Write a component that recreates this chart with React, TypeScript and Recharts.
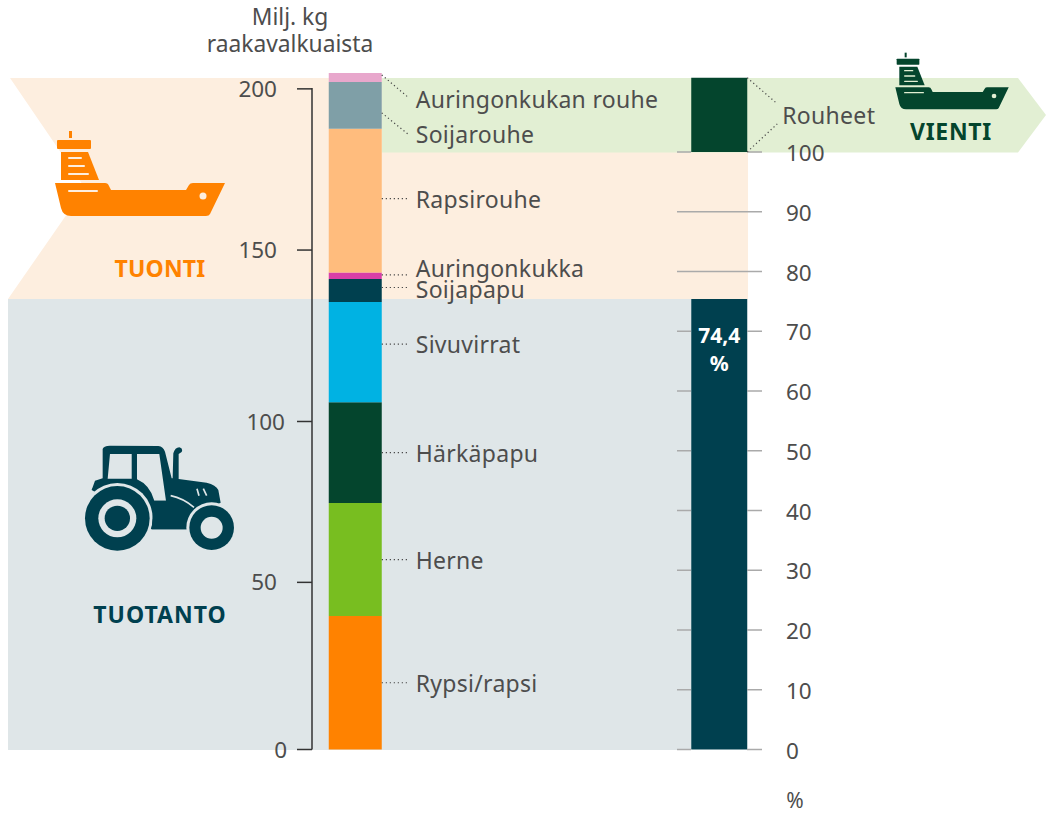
import { Bar, ComposedChart, LabelList, XAxis, YAxis } from "recharts";

const FONT = "'Noto Sans', sans-serif";
const INK = "#4d4d4d";
const DOTS = { stroke: "#444", strokeWidth: 1.2, strokeDasharray: "1.2 2.8" };

// Milj. kg raakavalkuaista, bottom to top
const feedNames = [
  "Rypsi/rapsi",
  "Herne",
  "Härkäpapu",
  "Sivuvirrat",
  "Soijapapu",
  "Auringonkukka",
  "Rapsirouhe",
  "Soijarouhe",
  "Auringonkukan rouhe",
];
const feedValues = [40.4, 34.2, 30.5, 30.4, 6.9, 2, 43.5, 14.2, 2.7];
const feedColors = ["#ff8200", "#78be20", "#04452d", "#00b2e3", "#00404f", "#d93ea8", "#ffbc7d", "#7f9fa7", "#e8a7cc"];

// self sufficiency column, percent
const selfSufficiency = 75.4;
const selfSufficiencyLabel = "74,4";
const exportGap = 24.6;
const exportMeal = 12.4;

const leftTicks = [0, 50.6, 99.3, 151.2, 200];
const leftTickLabels = ["0", "50", "100", "150", "200"];
const leftTickEnds = [287, 277, 285, 277, 277];
const rightTicks = [0, 10, 20, 30, 40, 50, 60, 70, 80, 90, 100];

const feedRow: Record<string, number | string> = { name: "kg" };
feedNames.forEach((n, i) => (feedRow[n] = feedValues[i]));
const data = [
  feedRow,
  { name: "pct", kotimainen: selfSufficiency, gap: exportGap, Rouheet: exportMeal },
];

// leader line and text offsets from the middle of each segment
const leaders: Record<string, { from: number; to: number; text: number }> = {
  "Rypsi/rapsi": { from: 0, to: 0, text: 0 },
  Herne: { from: 0, to: 0, text: 0 },
  Härkäpapu: { from: 0, to: 0, text: 0 },
  Sivuvirrat: { from: -8, to: -8, text: -8 },
  Soijapapu: { from: -3, to: -3, text: -2 },
  Auringonkukka: { from: -1, to: -1, text: -8 },
  Rapsirouhe: { from: -2, to: -2, text: -2 },
  Soijarouhe: { from: 7.5, to: 28.5, text: 28.5 },
  "Auringonkukan rouhe": { from: -2.5, to: 19.5, text: 21.5 },
};

const feedLabel = (name: string) => (p: any) => {
  if (p.value == null) return null;
  const l = leaders[name];
  const right = p.x + p.width;
  const mid = p.y + p.height / 2;
  return (
    <g>
      <line x1={right} y1={mid + l.from} x2={right + 26} y2={mid + l.to} {...DOTS} />
      <text x={right + 34} y={mid + l.text} dy="0.4em" fontSize={23} letterSpacing={0.28} fill={INK} fontFamily={FONT}>
        {name}
      </text>
    </g>
  );
};

const mealLabel = (p: any) => {
  if (p.value == null) return null;
  const right = p.x + p.width;
  return (
    <g>
      <line x1={right} y1={p.y} x2={right + 30} y2={p.y + 26} {...DOTS} />
      <line x1={right} y1={p.y + p.height} x2={right + 30} y2={p.y + p.height - 28} {...DOTS} />
      <text x={right + 35} y={p.y + p.height / 2} dy="0.4em" fontSize={23} letterSpacing={0.3} fill={INK} fontFamily={FONT}>
        Rouheet
      </text>
    </g>
  );
};

const shareLabel = (p: any) => {
  if (p.value == null) return null;
  const cx = p.x + p.width / 2;
  return (
    <text textAnchor="middle" fontSize={21} fontWeight={700} fill="#fff" fontFamily={FONT}>
      <tspan x={cx} y={p.y + 44}>
        {selfSufficiencyLabel}
      </tspan>
      <tspan x={cx} y={p.y + 72}>
        %
      </tspan>
    </text>
  );
};

const LeftTick = (p: any) => {
  const i = p.index;
  return (
    <g>
      <line x1={p.x} y1={p.y} x2={p.x - 15} y2={p.y} stroke="#333" strokeWidth={1.5} />
      <text x={leftTickEnds[i]} y={p.y} dy="0.36em" textAnchor="end" fontSize={22.5} fill={INK} fontFamily={FONT}>
        {leftTickLabels[i]}
      </text>
    </g>
  );
};

// axes paint over the bars, so the tick stops at the column where a bar covers it
const RightTick = (p: any) => {
  const v = p.payload.value;
  const covered = v <= selfSufficiency || v === 100;
  return (
    <g>
      {covered ? (
        <path d={`M${p.x - 85} ${p.y} h14 M${p.x - 15} ${p.y} H${p.x}`} stroke="#aaa" strokeWidth={1.5} />
      ) : (
        <line x1={p.x - 85} y1={p.y} x2={p.x} y2={p.y} stroke="#aaa" strokeWidth={1.5} />
      )}
      <text x={p.x + 24} y={p.y + 1} dy="0.36em" fontSize={22.5} fill={INK} fontFamily={FONT}>
        {v}
      </text>
    </g>
  );
};

function Ship({ x, y, k, fill, stripe }: { x: number; y: number; k: number; fill: string; stripe: string }) {
  return (
    <g transform={`translate(${x} ${y}) scale(${k})`}>
      <rect x={16} y={1} width={3} height={7} fill={fill} />
      <rect x={4} y={10} width={34} height={9} rx={1} fill={fill} />
      <path d="M8 22 H35 L46 50 H8 Z" fill={fill} />
      <path
        d="M2 53 H52 Q55 53 56 56 L58 60 H133 L136 55 Q137 53 140 53 H172 L157 84 Q156 86 153 86 H18 Q10 86 8 78 Z"
        fill={fill}
      />
      <g stroke={stripe} strokeWidth={2} strokeLinecap="round">
        <line x1={16} y1={28} x2={28} y2={28} />
        <line x1={16} y1={36} x2={31} y2={36} />
        <line x1={16} y1={44} x2={35} y2={44} />
        <line x1={16} y1={61} x2={44} y2={61} />
      </g>
      <circle cx={150} cy={66} r={3.5} fill={stripe} />
    </g>
  );
}

function Tractor() {
  const dark = "#00404f";
  const bg = "#dfe6e8";
  return (
    <g transform="translate(60 430) scale(0.3333)">
      <path
        d="M128 57 Q130 48 150 47 L295 48 Q310 50 315 65 L335 145 L338 145 L340 70 Q345 52 358 52 Q370 54 365 66 L356 72 L356 147 L440 158 Q468 165 475 180 L482 218 L440 240 L395 298 L275 298 L200 240 L95 180 L105 152 L128 145 Z"
        fill={dark}
      />
      <path d="M150 72 H215 V147 H143 Z" fill={bg} />
      <path d="M231 72 H298 L318 212 H283 Q270 165 231 148 Z" fill={bg} />
      <circle cx={172} cy={265} r={106} fill={bg} />
      <path d="M95 180 Q110 150 135 146 H231 V150 Q190 150 150 158 Q120 165 95 180 Z" fill={dark} />
      <path d="M275 298 L283 212 H395 L390 298 Z" fill={dark} />
      <path d="M332 197 Q370 205 402 232" fill="none" stroke={bg} strokeWidth={5} />
      <circle cx={455} cy={293} r={76} fill={bg} />
      <circle cx={172} cy={265} r={97} fill={dark} />
      <circle cx={172} cy={265} r={57} fill={bg} />
      <circle cx={172} cy={265} r={38} fill={dark} />
      <circle cx={455} cy={293} r={67} fill={dark} />
      <circle cx={455} cy={293} r={33} fill={bg} />
      <path d="M411 176 L417 197 M430 176 L440 197" stroke={bg} strokeWidth={5} />
    </g>
  );
}

function Backdrop() {
  return (
    <svg width={1046} height={814} style={{ position: "absolute", left: 0, top: 0 }}>
      <polygon points="10,78 748,78 748,299 8,299 85,188" fill="#fdeedf" />
      <rect x={8} y={299} width={683} height={451} fill="#dfe6e8" />
      <polygon points="382,78 1018,78 1046,115 1018,152.5 382,152.5" fill="#e2efd3" />
      <Ship x={53} y={130} k={1} fill="#ff8200" stripe="#fdeedf" />
      <Ship x={894} y={52} k={0.667} fill="#04452d" stripe="#e2efd3" />
      <Tractor />
      <g fontFamily={FONT} fontWeight={700} fontSize={23} textAnchor="middle">
        <text x={160} y={277} letterSpacing={0.2} fill="#ff8200">TUONTI</text>
        <text x={160} y={623} letterSpacing={1} fill="#00404f">TUOTANTO</text>
        <text x={951} y={140} letterSpacing={0.7} fill="#04452d">VIENTI</text>
      </g>
    </svg>
  );
}

export default function App() {
  return (
    <div style={{ position: "absolute", left: 0, top: 0, width: 1046, height: 814, background: "#fff" }}>
      <Backdrop />
      <div style={{ position: "absolute", left: 0, top: 0 }}>
        <ComposedChart width={1046} height={814} data={data} margin={{ top: 73, bottom: 64.5, left: 212, right: 184 }}>
          <XAxis xAxisId="kg" dataKey="name" scale="point" padding={{ left: 43.5, right: 43 }} hide />
          <XAxis xAxisId="pct" dataKey="name" scale="point" padding={{ left: 43.5, right: 43 }} hide />
          <YAxis
            yAxisId="kg"
            width={100}
            domain={[0, 204.5]}
            ticks={leftTicks}
            interval={0}
            tickSize={0}
            tickMargin={0}
            tickLine={false}
            axisLine={{ stroke: "#333", strokeWidth: 1.5, strokeDasharray: "0 15 662 0" }}
            tick={LeftTick}
          />
          <YAxis
            yAxisId="pct"
            orientation="right"
            width={100}
            domain={[0, 113.2]}
            ticks={rightTicks}
            interval={0}
            tickSize={0}
            tickMargin={0}
            tickLine={false}
            axisLine={false}
            tick={RightTick}
          />
          {feedNames.map((name, i) => (
            <Bar
              key={name}
              xAxisId="kg"
              yAxisId="kg"
              dataKey={name}
              stackId="kg"
              barSize={53}
              fill={feedColors[i]}
              isAnimationActive={false}
            >
              <LabelList dataKey={name} content={feedLabel(name)} />
            </Bar>
          ))}
          <Bar xAxisId="pct" yAxisId="pct" dataKey="kotimainen" stackId="pct" barSize={56} fill="#00404f" isAnimationActive={false}>
            <LabelList dataKey="kotimainen" content={shareLabel} />
          </Bar>
          <Bar xAxisId="pct" yAxisId="pct" dataKey="gap" stackId="pct" barSize={56} fill="none" isAnimationActive={false} />
          <Bar xAxisId="pct" yAxisId="pct" dataKey="Rouheet" stackId="pct" barSize={56} fill="#04452d" isAnimationActive={false}>
            <LabelList dataKey="Rouheet" content={mealLabel} />
          </Bar>
          <text textAnchor="middle" fontSize={22.8} fill={INK} fontFamily={FONT}>
            <tspan x={290} y={25}>Milj. kg</tspan>
            <tspan x={290} y={52}>raakavalkuaista</tspan>
          </text>
          <text x={795} y={808} textAnchor="middle" fontSize={21} fill={INK} fontFamily={FONT}>%</text>
        </ComposedChart>
      </div>
    </div>
  );
}
